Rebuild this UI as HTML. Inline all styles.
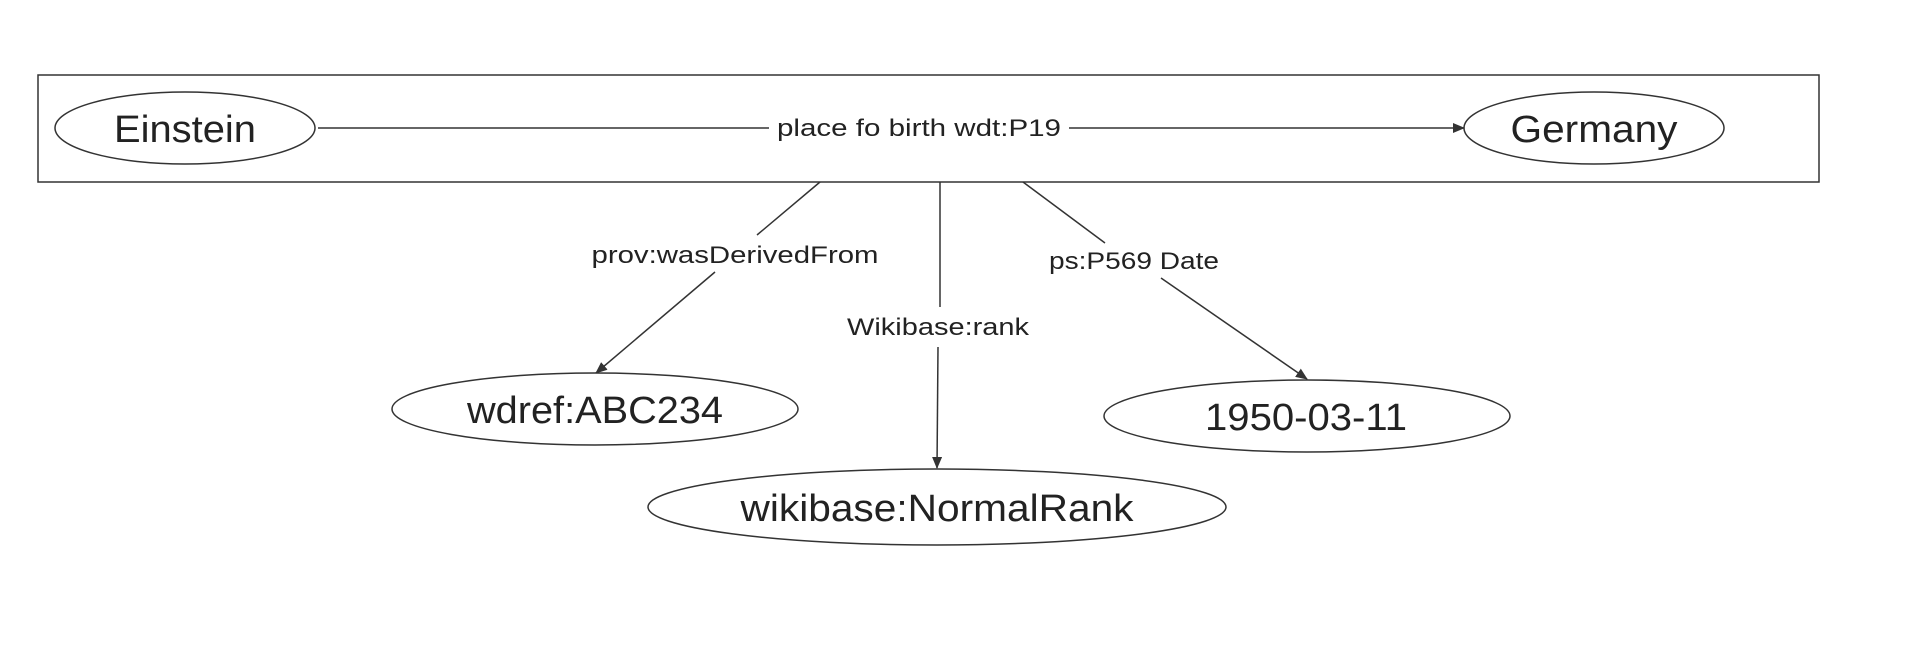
<!DOCTYPE html>
<html><head><meta charset="utf-8"><style>
html,body{margin:0;padding:0;background:#fff;}
svg{display:block;}
text{font-family:"Liberation Sans",sans-serif;fill:#222;}
</style></head><body>
<svg width="1930" height="660" viewBox="0 0 1930 660" xmlns="http://www.w3.org/2000/svg">
<defs><marker id="a" markerWidth="12" markerHeight="10" refX="11" refY="5" orient="auto" markerUnits="userSpaceOnUse"><path d="M0,0 L12,5 L0,10 Z" fill="#333"/></marker></defs>
<g stroke="#333" stroke-width="1.5" fill="none">
<rect x="38" y="75" width="1781" height="107"/>
<ellipse cx="185" cy="128" rx="130" ry="36"/>
<ellipse cx="1594" cy="128" rx="130" ry="36"/>
<line x1="318" y1="128" x2="769" y2="128"/>
<line x1="1069" y1="128" x2="1464" y2="128" marker-end="url(#a)"/>
<line x1="820" y1="182" x2="757" y2="235"/>
<line x1="715" y1="272" x2="596" y2="373" marker-end="url(#a)"/>
<line x1="940" y1="182" x2="940" y2="307"/>
<line x1="938" y1="347" x2="937" y2="468" marker-end="url(#a)"/>
<line x1="1023" y1="182" x2="1105" y2="243"/>
<line x1="1161" y1="278" x2="1307" y2="379" marker-end="url(#a)"/>
<ellipse cx="595" cy="409" rx="203" ry="36"/>
<ellipse cx="937" cy="507" rx="289" ry="38"/>
<ellipse cx="1307" cy="416" rx="203" ry="36"/>
</g>
<g text-anchor="middle">
<text x="185" y="142" font-size="38" textLength="142" lengthAdjust="spacingAndGlyphs">Einstein</text>
<text x="1594" y="142" font-size="38" textLength="167" lengthAdjust="spacingAndGlyphs">Germany</text>
<text x="919" y="136" font-size="24" textLength="284" lengthAdjust="spacingAndGlyphs">place fo birth wdt:P19</text>
<text x="735" y="263" font-size="24" textLength="287" lengthAdjust="spacingAndGlyphs">prov:wasDerivedFrom</text>
<text x="938" y="335" font-size="24" textLength="182" lengthAdjust="spacingAndGlyphs">Wikibase:rank</text>
<text x="1134" y="269" font-size="24" textLength="170" lengthAdjust="spacingAndGlyphs">ps:P569 Date</text>
<text x="595" y="423" font-size="38" textLength="256" lengthAdjust="spacingAndGlyphs">wdref:ABC234</text>
<text x="937" y="521" font-size="38" textLength="393" lengthAdjust="spacingAndGlyphs">wikibase:NormalRank</text>
<text x="1306" y="430" font-size="38" textLength="202" lengthAdjust="spacingAndGlyphs">1950-03-11</text>
</g>
</svg>
</body></html>
